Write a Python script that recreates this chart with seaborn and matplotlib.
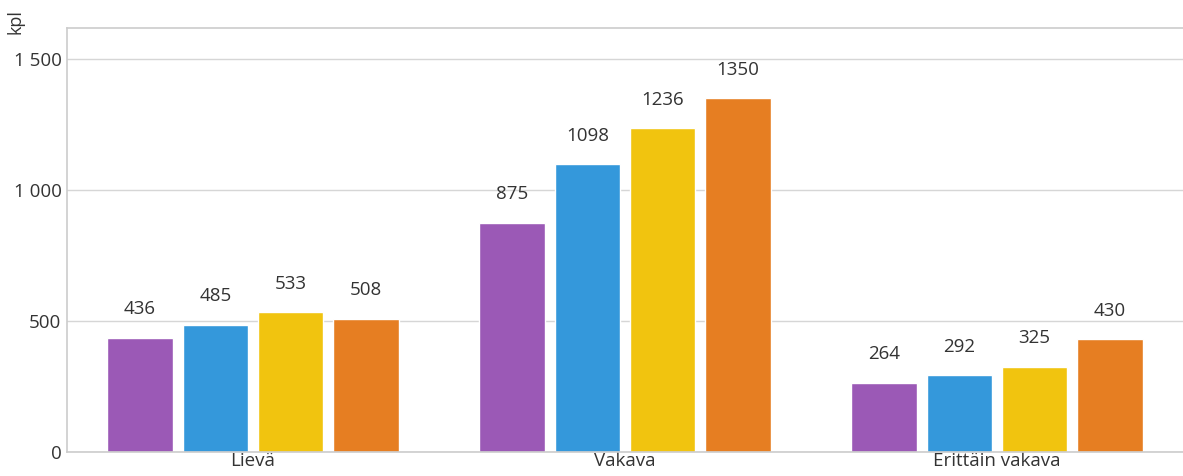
import pandas as pd
import matplotlib.pyplot as plt
import seaborn as sns

# vammojen vakavuus, kpl
categories = ["Lievä", "Vakava", "Erittäin vakava"]
series = ["Sarja 1", "Sarja 2", "Sarja 3", "Sarja 4"]
values = [
    [436, 485, 533, 508],
    [875, 1098, 1236, 1350],
    [264, 292, 325, 430],
]
colors = ["#9b59b6", "#3498db", "#f1c40f", "#e67e22"]

rows = []
for cat, vals in zip(categories, values):
    for s, v in zip(series, vals):
        rows.append({"luokka": cat, "sarja": s, "kpl": v})
df = pd.DataFrame(rows)

sns.set_theme(style="white")
plt.rcParams['font.family'] = ['Open Sans', 'DejaVu Sans']

fig = plt.figure(figsize=(11.83, 4.76), dpi=100)
ax = fig.add_axes([67 / 1183, 24 / 476, 1 - 67 / 1183, 424 / 476])

sns.barplot(data=df, x="luokka", y="kpl", hue="sarja", palette=colors,
            width=0.81, gap=0.13, ax=ax, legend=False, saturation=1)

for cont in ax.containers:
    ax.bar_label(cont, padding=14, fontsize=13.5, color="#333333")

ax.set_ylim(0, 1618)
ax.set_xlim(-0.5, 2.5)
ax.set_yticks([0, 500, 1000, 1500])
ax.set_yticklabels(["0", "500", "1 000", "1 500"])
ax.set_xlabel("")
ax.set_ylabel("")
ax.grid(True, axis="y", color="#d6d6d6", linewidth=1)
ax.set_axisbelow(True)
ax.tick_params(axis="both", length=0, labelsize=13.5, colors="#333333", pad=4)
ax.tick_params(axis="x", pad=0)

for side in ["left", "top", "bottom"]:
    ax.spines[side].set_color("#cccccc")
    ax.spines[side].set_linewidth(1.2)
ax.spines["right"].set_visible(False)

fig.text(15 / 1183, 1 - 22 / 476, "kpl", rotation=90, ha="center", va="center",
         fontsize=13, color="#333333")

plt.savefig("out.png", dpi=100)
plt.close()
